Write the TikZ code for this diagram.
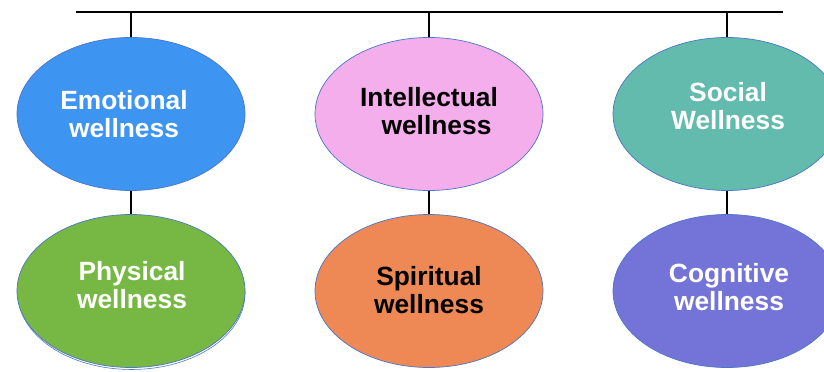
\documentclass[tikz,border=0pt]{standalone}
\usepackage{fontspec}
\setmainfont{Liberation Sans}
\usetikzlibrary{shapes.geometric}
\definecolor{emoblue}{HTML}{3D94F1}
\definecolor{physgreen}{HTML}{76B843}
\definecolor{intpink}{HTML}{F3AEEB}
\definecolor{spirorange}{HTML}{EE8854}
\definecolor{socteal}{HTML}{62BBAD}
\definecolor{cogpurple}{HTML}{7474D8}
\definecolor{edgeblue}{HTML}{4A76C8}
\begin{document}
\begin{tikzpicture}[x=0.03cm, y=-0.03cm,
    wellness/.style={ellipse, draw=edgeblue, line width=0.6pt,
      minimum width=6.84cm, minimum height=4.59cm, inner sep=0pt},
    caption/.style={text centered, align=center, inner sep=0pt,
      font=\fontsize{22.5}{24.2}\selectfont\bfseries},
    branch/.style={line width=1.6pt, draw=black}]
\useasboundingbox (0,0) rectangle (824,372);
\clip (0,0) rectangle (824,372);

% top bar
\coordinate (barleft) at (76,12);
\coordinate (barright) at (783,12);
\draw [branch] (barleft) -- (barright);

% upper row
\path (131,114) node (emotional) [wellness, fill=emoblue] {};
\path (429,114) node (intellectual) [wellness, fill=intpink] {};
\path (727,114) node (social) [wellness, fill=socteal] {};

% lower row
\draw [edgeblue, line width=0.5pt] (131.5,293.5) ellipse (113.5 and 76);
\path (131,291) node (physical) [wellness, fill=physgreen] {};
\path (429,291) node (spiritual) [wellness, fill=spirorange] {};
\path (727,291) node (cognitive) [wellness, fill=cogpurple] {};

% captions
\path (124,114) node (emotional-text) [caption, text=white]
  {Emotional\\wellness};
\path (429,111) node (intellectual-text) [caption, text=black]
  {Intellectual\\\hspace*{0.45cm}wellness};
\path (728,106) node (social-text) [caption, text=white]
  {Social\\Wellness};
\path (132,285) node (physical-text) [caption, text=white]
  {Physical\\wellness};
\path (429,290) node (spiritual-text) [caption, text=black]
  {Spiritual\\wellness};
\path (729,287) node (cognitive-text) [caption, text=white]
  {Cognitive\\wellness};

% bar to upper row
\draw [branch] (emotional.north |- barleft) -- (emotional.north);
\draw [branch] (intellectual.north |- barleft) -- (intellectual.north);
\draw [branch] (social.north |- barleft) -- (social.north);

% upper row to lower row
\draw [branch] (emotional.south) -- (physical.north);
\draw [branch] (intellectual.south) -- (spiritual.north);
\draw [branch] (social.south) -- (cognitive.north);
\end{tikzpicture}
\end{document}
